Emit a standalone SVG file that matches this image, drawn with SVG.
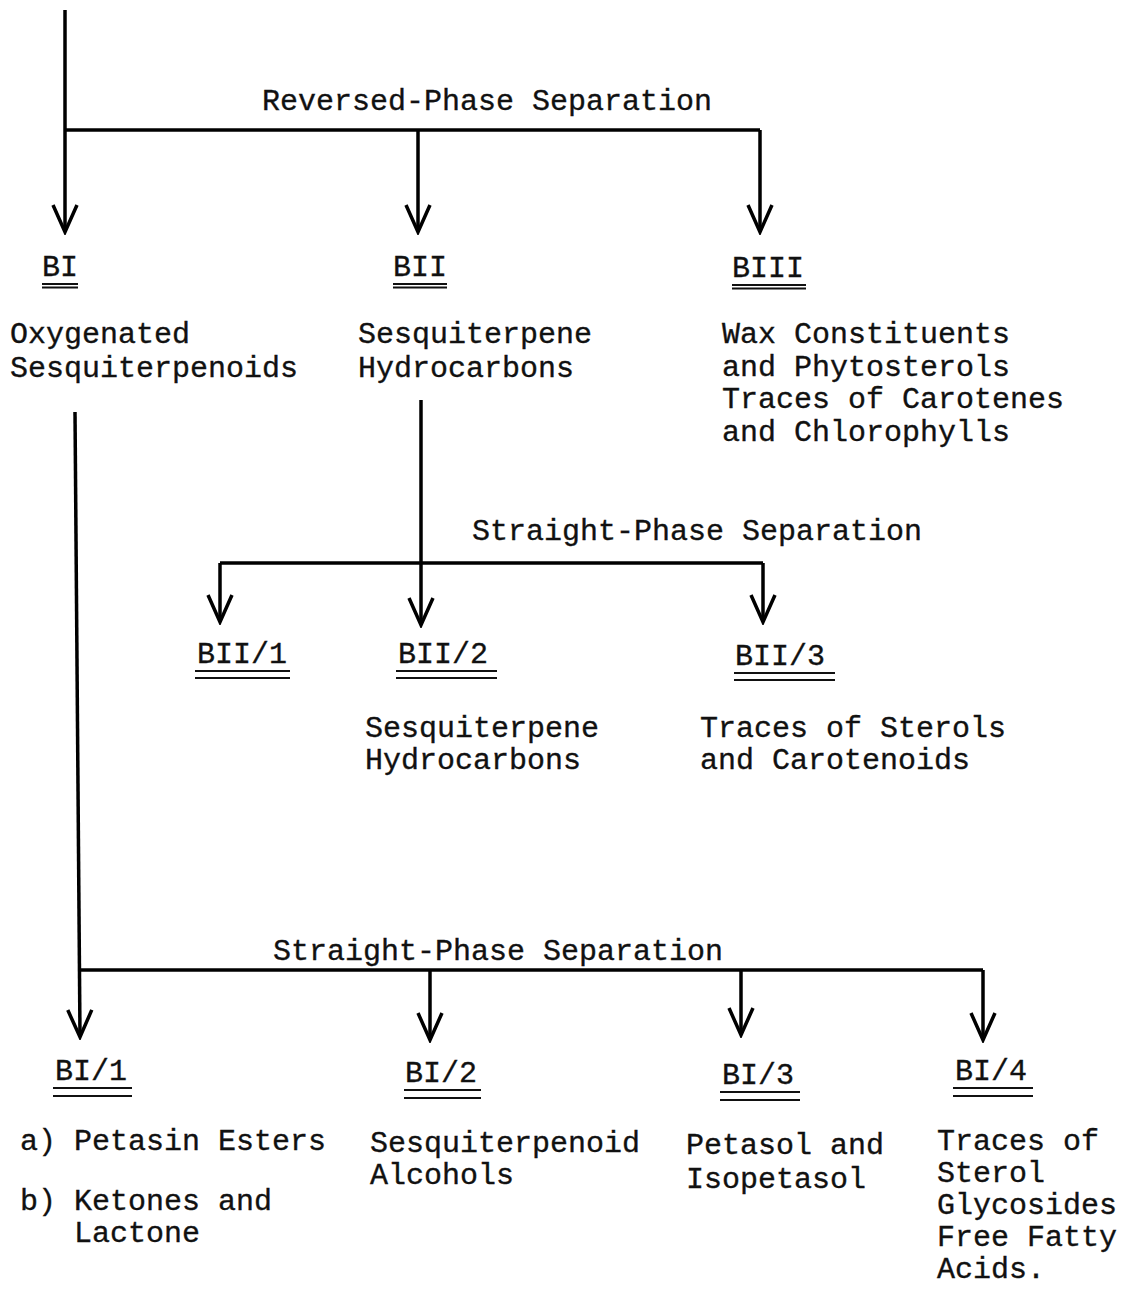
<svg xmlns="http://www.w3.org/2000/svg" width="1122" height="1289" viewBox="0 0 1122 1289">
<style>
text{font-family:"Liberation Mono","Courier New",monospace;font-size:30px;fill:#111;stroke:#111;stroke-width:0.35}
.ln{fill:none;stroke:#000;stroke-width:3.5}
.ul{fill:none;stroke:#111;stroke-width:2}
</style>
<defs>
<marker id="ah" markerUnits="userSpaceOnUse" viewBox="-30 -15 33 30" markerWidth="33" markerHeight="30" refX="0" refY="0" orient="auto">
<path d="M-27,-12 L0,0 L-27,12" fill="none" stroke="#000" stroke-width="3.5" stroke-linejoin="miter"/>
</marker>
</defs>
<rect width="1122" height="1289" fill="#fff"/>
<g id="connectors">
<path class="ln" d="M65,10 V232" marker-end="url(#ah)"/>
<path class="ln" d="M65,130 H760"/>
<path class="ln" d="M418,130 V232" marker-end="url(#ah)"/>
<path class="ln" d="M760,130 V232" marker-end="url(#ah)"/>
<path class="ln" d="M421,400 V625" marker-end="url(#ah)"/>
<path class="ln" d="M220,563 H763"/>
<path class="ln" d="M220,563 V622" marker-end="url(#ah)"/>
<path class="ln" d="M763,563 V622" marker-end="url(#ah)"/>
<path class="ln" d="M75,412 L80,1037" marker-end="url(#ah)"/>
<path class="ln" d="M79,970 H983"/>
<path class="ln" d="M430,970 V1040" marker-end="url(#ah)"/>
<path class="ln" d="M741,970 V1035" marker-end="url(#ah)"/>
<path class="ln" d="M983,970 V1040" marker-end="url(#ah)"/>
</g>
<g id="labels">
<text x="262" y="110">Reversed-Phase Separation</text>
<text x="472" y="540">Straight-Phase Separation</text>
<text x="273" y="960">Straight-Phase Separation</text>
</g>
<g id="BI">
<text x="42" y="276">BI</text>
<path class="ul" d="M42,284 H78 M42,287.5 H78"/>
<text x="10" y="343">Oxygenated</text>
<text x="10" y="377">Sesquiterpenoids</text>
</g>
<g id="BII">
<text x="393" y="276">BII</text>
<path class="ul" d="M393,284 H447 M393,287.5 H447"/>
<text x="358" y="343">Sesquiterpene</text>
<text x="358" y="377">Hydrocarbons</text>
</g>
<g id="BIII">
<text x="732" y="277">BIII</text>
<path class="ul" d="M732,285 H806 M732,288.5 H806"/>
<text x="722" y="343">Wax Constituents</text>
<text x="722" y="376">and Phytosterols</text>
<text x="722" y="408">Traces of Carotenes</text>
<text x="722" y="441">and Chlorophylls</text>
</g>
<g id="BII-1">
<text x="197" y="663">BII/1</text>
<path class="ul" d="M195,671 H290 M195,678 H290"/>
</g>
<g id="BII-2">
<text x="398" y="663">BII/2</text>
<path class="ul" d="M396,671 H497 M396,678 H497"/>
<text x="365" y="737">Sesquiterpene</text>
<text x="365" y="769">Hydrocarbons</text>
</g>
<g id="BII-3">
<text x="735" y="665">BII/3</text>
<path class="ul" d="M734,673 H835 M734,680 H835"/>
<text x="700" y="737">Traces of Sterols</text>
<text x="700" y="769">and Carotenoids</text>
</g>
<g id="BI-1">
<text x="55" y="1080">BI/1</text>
<path class="ul" d="M53,1088 H132 M53,1096 H132"/>
<text x="20" y="1150">a) Petasin Esters</text>
<text x="20" y="1210">b) Ketones and</text>
<text x="74" y="1242">Lactone</text>
</g>
<g id="BI-2">
<text x="405" y="1082">BI/2</text>
<path class="ul" d="M404,1090 H481 M404,1098 H481"/>
<text x="370" y="1152">Sesquiterpenoid</text>
<text x="370" y="1184">Alcohols</text>
</g>
<g id="BI-3">
<text x="722" y="1084">BI/3</text>
<path class="ul" d="M720,1092 H800 M720,1100 H800"/>
<text x="686" y="1154">Petasol and</text>
<text x="686" y="1188">Isopetasol</text>
</g>
<g id="BI-4">
<text x="955" y="1080">BI/4</text>
<path class="ul" d="M953,1088 H1033 M953,1096 H1033"/>
<text x="937" y="1150">Traces of</text>
<text x="937" y="1182">Sterol</text>
<text x="937" y="1214">Glycosides</text>
<text x="937" y="1246">Free Fatty</text>
<text x="937" y="1278">Acids.</text>
</g>
</svg>
